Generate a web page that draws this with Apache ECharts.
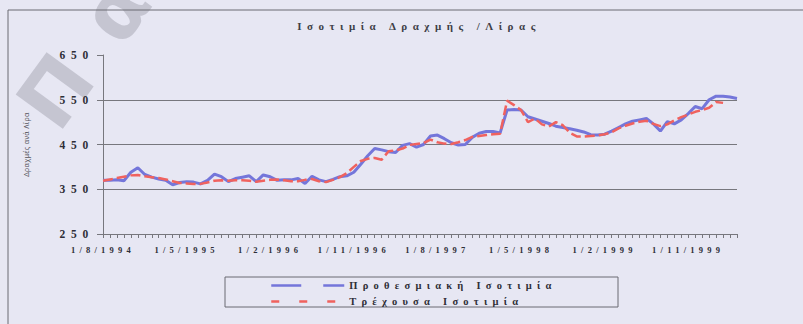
<!DOCTYPE html>
<html>
<head>
<meta charset="utf-8">
<script src="https://cdn.jsdelivr.net/npm/echarts@6/dist/echarts.min.js"></script>
<style>
html, body { margin: 0; padding: 0; background: #e7e7f3; }
#main { width: 803px; height: 324px; }
#main text { letter-spacing: 0.5em; }
#main text[style*="Noto Sans"], #main text[font-family*="Noto Sans"] { letter-spacing: 0.05em; }
</style>
</head>
<body>
<div id="main"></div>
<script>
const titleText = 'Ισοτιμία Δραχμής /Λίρας';
const yAxisName = 'Δραχμές ανά Λίρα';
const watermarkText = 'Πα';
const seriesNames = ['Προθεσμιακή Ισοτιμία', 'Τρέχουσα Ισοτιμία'];

// labelled dates, one every 12 observations
const tickLabels = ['1/8/1994', '1/5/1995', '1/2/1996', '1/11/1996', '1/8/1997', '1/5/1998', '1/2/1999', '1/11/1999'];

// forward rate (solid blue)
const forwardRate = [
  370, 370, 371, 369, 388, 398, 383, 377, 373, 370,
  360, 365, 367, 366, 362, 370, 384, 378, 367, 374,
  377, 380, 367, 382, 378, 370, 371, 371, 374, 363,
  379, 371, 367, 372, 378, 380, 388, 406, 425, 441,
  438, 434, 432, 448, 452, 444, 450, 469, 471, 463,
  454, 449, 450, 466, 475, 479, 479, 476, 527, 528,
  527, 512, 507, 502, 497, 491, 488, 485, 482, 478,
  472, 471, 473, 480, 488, 496, 502, 505, 508, 496,
  480, 501, 496, 505, 519, 535, 530, 550, 558, 558,
  556, 553
];

// spot rate (dashed red)
const spotRate = [
  369, 372, 375, 378, 381, 382, 379, 377, 375, 372,
  368, 364, 363, 362, 362, 365, 369, 370, 369, 370,
  370, 369, 367, 369, 371, 372, 370, 368, 368, 371,
  373, 368, 366, 371, 377, 386, 400, 413, 418, 420,
  416, 435, 437, 441, 449, 451, 453, 461, 455, 452,
  451, 455, 460, 467, 469, 471, 473, 474, 548, 538,
  527, 500, 508, 495, 490, 500, 493, 476, 468, 468,
  469, 470, 473, 477, 486, 492, 497, 501, 503, 496,
  491, 495, 504, 511, 517, 523, 527, 532, 545, 543,
  null, null
];

const categories = forwardRate.map((_, i) => (i % 12 === 0 ? tickLabels[i / 12] : 'p' + i));

const textColor = '#2e2e36';
const lineGrey = '#77777d';
const serif = 'Liberation Serif';

const chart = echarts.init(document.getElementById('main'), null, { renderer: 'svg' });

chart.setOption({
  backgroundColor: '#e7e7f3',
  animation: false,
  grid: { left: 103, right: 66, top: 55, bottom: 90 },
  legend: {
    orient: 'vertical',
    left: 270,
    top: 280,
    padding: 0,
    itemWidth: 73,
    itemHeight: 10,
    itemGap: 5,
    textStyle: { fontFamily: serif, fontWeight: 'bold', fontSize: 10.5, color: textColor },
    data: [
      { name: seriesNames[0], lineStyle: { type: [30, 22], width: 2.5 }, itemStyle: { opacity: 0 } },
      { name: seriesNames[1], lineStyle: { type: [8, 20], width: 2.5 }, itemStyle: { opacity: 0 } }
    ]
  },
  xAxis: {
    type: 'category',
    boundaryGap: false,
    data: categories,
    axisLine: { lineStyle: { color: lineGrey, width: 1 } },
    axisTick: { interval: 0, length: 4, lineStyle: { color: lineGrey } },
    axisLabel: {
      interval: 11, margin: 11,
      fontFamily: serif, fontWeight: 'bold', fontSize: 8.5, color: textColor
    },
    splitLine: { show: false }
  },
  yAxis: {
    type: 'value',
    min: 250, max: 650, interval: 100,
    name: yAxisName,
    nameLocation: 'middle',
    nameGap: 73,
    nameTextStyle: { fontFamily: 'Noto Sans', fontSize: 7, color: '#55555c' },
    axisLine: { show: true, lineStyle: { color: lineGrey, width: 1 } },
    axisTick: { show: true, length: 6, lineStyle: { color: lineGrey } },
    axisLabel: { margin: 9, fontFamily: serif, fontWeight: 'bold', fontSize: 11.5, color: textColor },
    splitLine: { show: true, lineStyle: { color: [lineGrey, lineGrey, lineGrey, lineGrey, 'rgba(0,0,0,0)'], width: 1 } }
  },
  series: [
    {
      name: seriesNames[0], type: 'line', data: forwardRate,
      symbol: 'none', showSymbol: false,
      lineStyle: { color: '#7476da', width: 3 },
      itemStyle: { color: '#7476da' },
      z: 3
    },
    {
      name: seriesNames[1], type: 'line', data: spotRate,
      symbol: 'none', showSymbol: false, connectNulls: false,
      lineStyle: { color: '#f0625e', width: 2.5, type: [10, 4] },
      itemStyle: { color: '#f0625e' },
      z: 4
    }
  ],
  graphic: [
    {
      type: 'rect', silent: true, z: 0,
      shape: { x: 8, y: 10, width: 830, height: 350 },
      style: { fill: 'none', stroke: '#6a6a72', lineWidth: 1 }
    },
    {
      type: 'rect', silent: true, z: 0,
      shape: { x: 225, y: 277, width: 393, height: 30 },
      style: { fill: 'none', stroke: '#6a6a72', lineWidth: 1 }
    },
    {
      type: 'text', silent: true, z: 0,
      x: 419, y: 26,
      style: {
        text: titleText, fontFamily: serif, fontWeight: 'bold', fontSize: 11,
        fill: '#3e3e46', align: 'center', verticalAlign: 'middle'
      }
    },
    {
      type: 'text', silent: true, z: -1,
      x: 4, y: 95, rotation: 0.94,
      style: {
        text: watermarkText, fontFamily: 'DejaVu Sans', fontWeight: 'bold', fontSize: 80,
        fill: 'rgba(120,120,132,0.3)', align: 'left', verticalAlign: 'top'
      }
    }
  ]
});
</script>
</body>
</html>
